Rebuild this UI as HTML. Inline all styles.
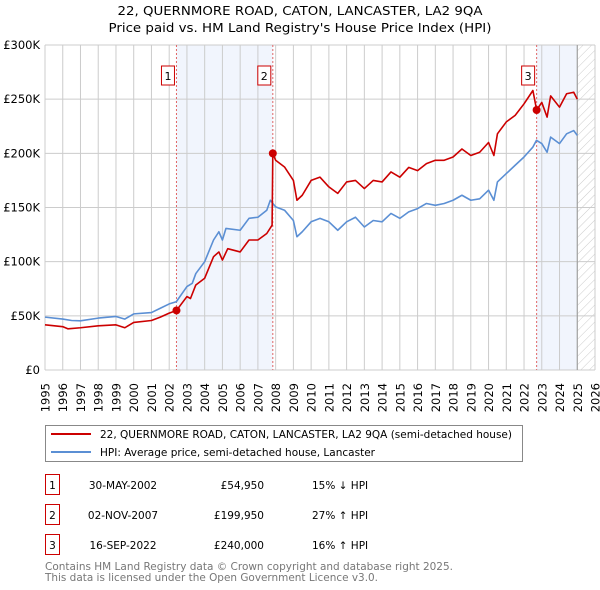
<!DOCTYPE html>
<html><head><meta charset="utf-8"><style>
body{margin:0;background:#fff;font-family:"DejaVu Sans","Liberation Sans",sans-serif;}
svg{display:block}
</style></head><body>
<svg width="600" height="590" viewBox="0 0 600 590" xmlns="http://www.w3.org/2000/svg" font-family="DejaVu Sans, Liberation Sans, sans-serif">
<text x="300" y="15" text-anchor="middle" font-size="12" textLength="365" lengthAdjust="spacingAndGlyphs">22, QUERNMORE ROAD, CATON, LANCASTER, LA2 9QA</text>
<text x="300" y="32" text-anchor="middle" font-size="12" textLength="383" lengthAdjust="spacingAndGlyphs">Price paid vs. HM Land Registry's House Price Index (HPI)</text>
<g id="plot"></g>
<g>
<rect x="45.5" y="425.5" width="477" height="36" fill="#fff" stroke="#888"/>
<line x1="51" y1="434" x2="91" y2="434" stroke="#cc0000" stroke-width="2"/>
<text x="100" y="438" font-size="10.5" textLength="412" lengthAdjust="spacingAndGlyphs">22, QUERNMORE ROAD, CATON, LANCASTER, LA2 9QA (semi-detached house)</text>
<line x1="51" y1="452" x2="91" y2="452" stroke="#5b8fd4" stroke-width="2"/>
<text x="100" y="456" font-size="10.5" textLength="275" lengthAdjust="spacingAndGlyphs">HPI: Average price, semi-detached house, Lancaster</text>
</g>
<g id="table" font-size="10.5"></g>
<text x="45" y="570" font-size="10.5" fill="#777" textLength="408" lengthAdjust="spacingAndGlyphs">Contains HM Land Registry data © Crown copyright and database right 2025.</text>
<text x="45" y="581" font-size="10.5" fill="#777" textLength="333" lengthAdjust="spacingAndGlyphs">This data is licensed under the Open Government Licence v3.0.</text>
</svg>
<script>
const hpiYears=[1995,1996,1996.5,1997,1998,1999,1999.5,2000,2001,2001.5,2002,2002.4,2003,2003.3,2003.5,2004,2004.5,2004.8,2005,2005.2,2006,2006.5,2007,2007.5,2007.7,2008,2008.5,2009,2009.2,2009.5,2010,2010.5,2011,2011.5,2012,2012.5,2013,2013.5,2014,2014.5,2015,2015.5,2016,2016.5,2017,2017.5,2018,2018.5,2019,2019.5,2020,2020.3,2020.5,2021,2021.5,2022,2022.5,2022.7,2023,2023.3,2023.5,2024,2024.4,2024.8,2025];
const hpiValues=[48.8,47,45.7,45.4,47.9,49.4,47,51.8,53,57,61,63,77,80,89,100,120,127.6,120,130.7,129,140,141,147.5,156.7,150.6,147.5,138,123,127.6,136.8,140,136.8,129,136.8,141,132,138,136.8,144.5,140,146,149,153.7,152,153.7,156.7,161.3,156.7,158,166,156.7,173.6,181.3,189,196.6,205.8,212,209,201,215,209,218,221,216.6];
const priceYears=[1995,1996,1996.3,1997,1998,1999,1999.5,2000,2001,2001.5,2002,2002.41,2003,2003.2,2003.5,2004,2004.5,2004.8,2005,2005.3,2006,2006.5,2007,2007.5,2007.8,2007.84,2008,2008.5,2009,2009.2,2009.5,2010,2010.5,2011,2011.5,2012,2012.5,2013,2013.5,2014,2014.5,2015,2015.5,2016,2016.5,2017,2017.5,2018,2018.5,2019,2019.5,2020,2020.3,2020.5,2021,2021.5,2022,2022.5,2022.71,2023,2023.3,2023.5,2024,2024.4,2024.8,2025];
const priceValues=[41.7,40,38,39,40.8,41.7,39,43.9,45.7,48.8,52.5,54.95,67.8,66,78.5,84.7,104.6,109,101.5,112,109,120,120,126,133.7,199.95,193.6,187.4,175,156.7,161.3,175,178,169,163,173.6,175,167.5,175,173.6,182.8,178,187,184,190.5,193.6,193.6,196.6,204,198,201,210,198,218,229,235,245.7,258,240,247,233.4,253,242.6,255,256.4,250];
const saleLabels=["1","2","3"];
const saleYears=[2002.41,2007.84,2022.71];
const salePrices=[54.95,199.95,240];
const saleDates=["30-MAY-2002","02-NOV-2007","16-SEP-2022"];
const salePriceText=["£54,950","£199,950","£240,000"];
const saleHpiText=["15% ↓ HPI","27% ↑ HPI","16% ↑ HPI"];
const yTicks=[0,50,100,150,200,250,300];
const yTickLabels=["£0","£50K","£100K","£150K","£200K","£250K","£300K"];
const xTicks=[1995,1996,1997,1998,1999,2000,2001,2002,2003,2004,2005,2006,2007,2008,2009,2010,2011,2012,2013,2014,2015,2016,2017,2018,2019,2020,2021,2022,2023,2024,2025,2026];
const dataEnd=2025.0;

const L=45,R=595,T=45,B=370;
const xs=y=>L+(y-1995)/(2026-1995)*(R-L);
const ys=v=>B-v/300*(B-T);
const NS="http://www.w3.org/2000/svg";
function mk(tag,attrs,parent){const e=document.createElementNS(NS,tag);for(const k in attrs)e.setAttribute(k,attrs[k]);parent.appendChild(e);return e;}
const plot=document.getElementById('plot');
const defs=mk('defs',{},plot);
const pat=mk('pattern',{id:'hatch',width:6,height:6,patternUnits:'userSpaceOnUse',patternTransform:'rotate(45)'},defs);
mk('line',{x1:0,y1:0,x2:0,y2:6,stroke:'#ccc','stroke-width':1},pat);
let s=mk('rect',{x:xs(saleYears[0]),y:T,width:xs(saleYears[1])-xs(saleYears[0]),height:B-T,fill:'#eef3fc',opacity:0.8},plot);


s=mk('rect',{x:xs(saleYears[2]),y:T,width:xs(dataEnd)-xs(saleYears[2]),height:B-T,fill:'#eef3fc',opacity:0.8},plot);


s=mk('rect',{x:xs(dataEnd),y:T,width:R-xs(dataEnd),height:B-T,fill:'url(#hatch)'},plot);


xTicks.forEach(t=>{const g=mk('line',{x1:xs(t),y1:T,x2:xs(t),y2:B,stroke:'#ccc','stroke-width':1},plot);


const tx=mk('text',{x:0,y:0,'font-size':11.5,'text-anchor':'end',transform:`translate(${xs(t)+4.5},${B+13}) rotate(-90)`},plot);tx.textContent=t;

});
yTicks.forEach((t,i)=>{const g=mk('line',{x1:L,y1:ys(t),x2:R,y2:ys(t),stroke:'#ccc','stroke-width':1},plot);


const tx=mk('text',{x:L-5,y:ys(t)+4,'font-size':11.5,'text-anchor':'end'},plot);tx.textContent=yTickLabels[i];

});
mk('line',{x1:xs(dataEnd),y1:T,x2:xs(dataEnd),y2:B,stroke:'#999','stroke-width':1},plot);
saleYears.forEach((y,i)=>{const l=mk('line',{x1:xs(y),y1:T,x2:xs(y),y2:B,stroke:'#e06666','stroke-width':1,'stroke-dasharray':'2,2'},plot);


const bx=mk('rect',{x:xs(y)-15,y:66,width:13,height:19,fill:'#fff',stroke:'#cc0000'},plot);


const tx=mk('text',{x:xs(y)-8.5,y:80,'font-size':11,'text-anchor':'middle'},plot);tx.textContent=saleLabels[i];

});
function line(xsArr,vs,color,name){const p=mk('polyline',{points:xsArr.map((y,i)=>xs(y)+','+ys(vs[i])).join(' '),fill:'none',stroke:color,'stroke-width':1.6,'stroke-linejoin':'round'},plot);

}
line(hpiYears,hpiValues,'#5b8fd4','hpi-line');
line(priceYears,priceValues,'#cc0000','price-line');
saleYears.forEach((y,i)=>{const c=mk('circle',{cx:xs(y),cy:ys(salePrices[i]),r:4,fill:'#cc0000'},plot);

});
const tb=document.getElementById('table');
const rowY=[485,515,545];
saleLabels.forEach((lab,i)=>{const y=rowY[i];
const bx=mk('rect',{x:45.5,y:y-10.5,width:14,height:20,fill:'#fff',stroke:'#cc0000'},tb);


const cells=[[52.5,'middle',lab],[123,'middle',saleDates[i]],[264,'end',salePriceText[i]],[312,'start',saleHpiText[i]]];
cells.forEach(c=>{const t=mk('text',{x:c[0],y:y+4,'text-anchor':c[1]},tb);t.textContent=c[2];

});});
</script>
</body></html>
